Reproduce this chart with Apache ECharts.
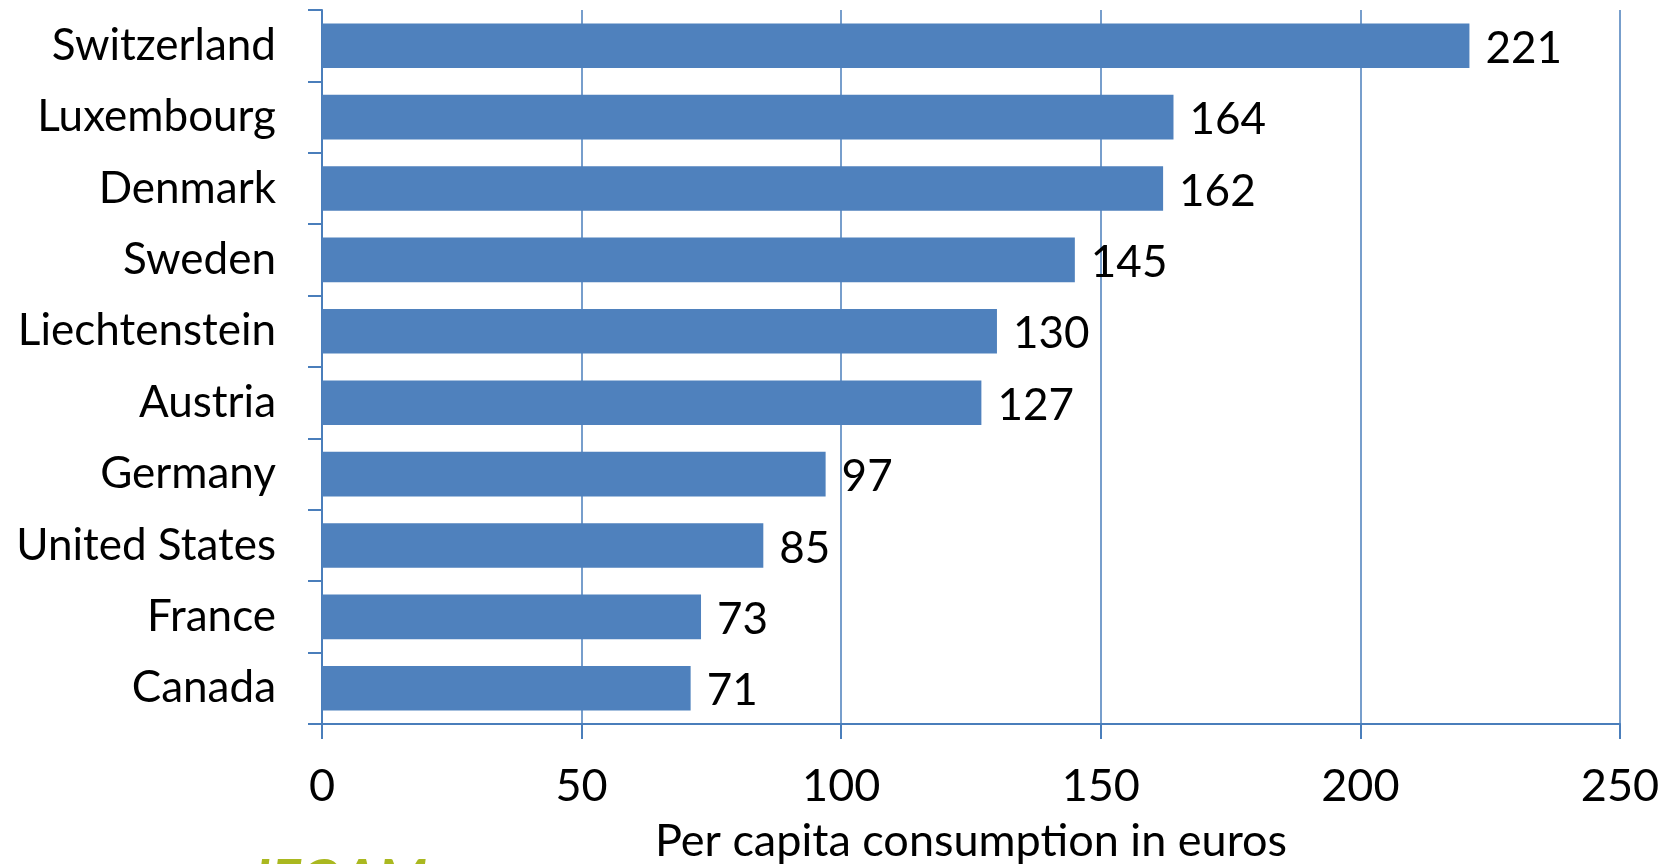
<!DOCTYPE html>
<html>
<head>
<meta charset="utf-8">
<title>Per capita consumption</title>
<script src="https://cdn.jsdelivr.net/npm/echarts@6/dist/echarts.min.js"></script>
<style>
  html, body { margin: 0; padding: 0; background: #fff; }
  #chart { width: 1674px; height: 864px; }
</style>
</head>
<body>
<div id="chart"></div>
<script>
// countries, top to bottom as in the picture
const countries = ['Switzerland', 'Luxembourg', 'Denmark', 'Sweden', 'Liechtenstein',
  'Austria', 'Germany', 'United States', 'France', 'Canada'];
const consumption = [221, 164, 162, 145, 130, 127, 97, 85, 73, 71];
const xTicks = [0, 50, 100, 150, 200, 250];

const blue = '#4F81BD';
const lineBlue = '#4A7EBB';
const font = 'Lato, "Open Sans", sans-serif';

const chart = echarts.init(document.getElementById('chart'));

chart.setOption({
  animation: false,
  textStyle: { fontFamily: font },
  grid: {
    left: 322,
    right: 54,
    top: 10,
    bottom: 140,
    containLabel: false,
    outerBoundsMode: 'none' // keep the plot where it is, the axis title may run off the bottom
  },
  xAxis: {
    type: 'value',
    min: xTicks[0],
    max: xTicks[xTicks.length - 1],
    interval: 50,
    name: 'Per capita consumption in euros',
    nameLocation: 'middle',
    nameGap: 95,
    nameTextStyle: { color: '#000', fontSize: 45, fontFamily: font },
    axisLine: { show: true, lineStyle: { color: lineBlue, width: 2 } },
    axisTick: { show: true, length: 15, lineStyle: { color: lineBlue, width: 2 } },
    axisLabel: { color: '#000', fontSize: 45, fontFamily: font, margin: 40 },
    splitLine: { show: true, lineStyle: { color: lineBlue, width: 1.5 } }
  },
  yAxis: {
    type: 'category',
    data: countries,
    inverse: true,
    axisLine: { show: true, lineStyle: { color: lineBlue, width: 2 } },
    axisTick: { show: true, length: 14, lineStyle: { color: lineBlue, width: 2 } },
    axisLabel: { color: '#000', fontSize: 44, fontFamily: font, margin: 46 },
    splitLine: { show: false }
  },
  series: [{
    type: 'bar',
    data: consumption,
    barCategoryGap: '37.5%',
    itemStyle: { color: blue },
    label: {
      show: true,
      position: 'right',
      distance: 16,
      color: '#000',
      fontSize: 44,
      fontFamily: font,
      offset: [0, 3]
    }
  }],
  graphic: [{
    type: 'text',
    left: 255,
    top: 853,
    style: {
      text: 'IFOAM',
      fill: '#AAB820',
      font: 'italic bold 56px ' + font
    }
  }]
});
</script>
</body>
</html>
